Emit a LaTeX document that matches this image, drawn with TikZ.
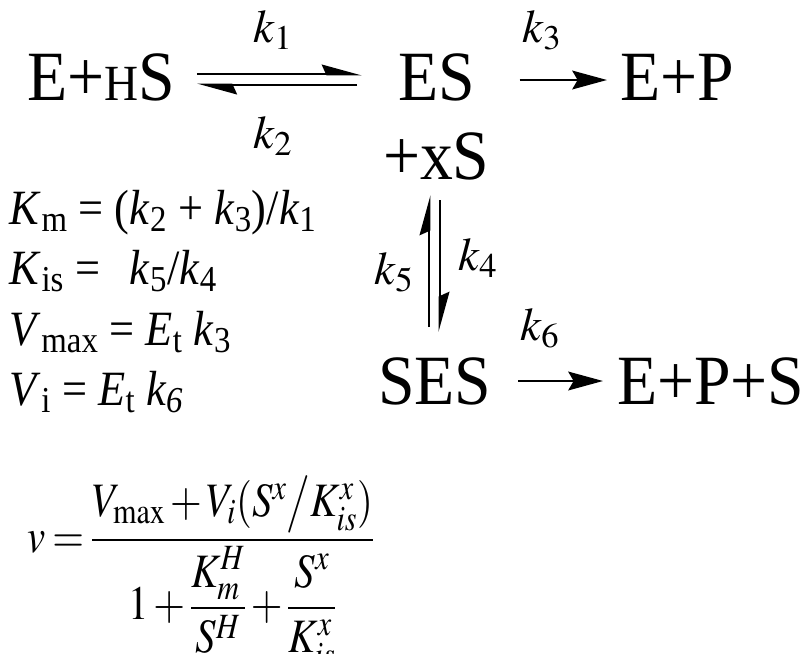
\documentclass[tikz,border=0pt]{standalone}
\usepackage{amsmath}
\usepackage{mathptmx}
\usepackage{fontspec}
\setmainfont{Liberation Serif}
\newfontfamily\tms[FakeStretch=0.93]{Liberation Serif}
\newfontfamily\tmsn[FakeStretch=0.9]{Liberation Serif}
\usetikzlibrary{arrows.meta}
\begin{document}
\begin{tikzpicture}[x=0.75pt,y=-0.75pt,
  big/.style={font=\tms\fontsize{53}{60}\selectfont, inner sep=0pt, outer sep=0pt},
  lab/.style={font=\fontsize{35}{40}\selectfont, inner sep=0pt, outer sep=0pt},
  eqn/.style={font=\tmsn\fontsize{37}{42}\selectfont, inner sep=0pt, outer sep=0pt},
  harp/.style={line width=2.2pt, -{Stealth[harpoon,length=26pt,width=14pt,inset=3pt]}},
  rxn/.style={line width=2.2pt, -{Stealth[length=26pt,width=14pt,inset=4pt]}}]
\useasboundingbox (0,0) rectangle (808,654);
% species
\node[big,anchor=base west] (lhs) at (27,100) {E+{\fontsize{38}{44}\selectfont H}S};
\node[big,anchor=base west] (es) at (398,100) {ES};
\node[big,anchor=base west] (ep) at (620,100) {E+P};
\node[big,anchor=base west] (xs) at (383,179) {+xS};
\node[big,anchor=base west] (ses) at (378,404) {SES};
\node[big,anchor=base west] (eps) at (617,404) {E+P+S};
% rate constants
\node[lab,anchor=base] (k1) at (273,42) {$k_1$};
\node[lab,anchor=base] (k2) at (273,148) {$k_2$};
\node[lab,anchor=base] (k3) at (542,42) {$k_3$};
\node[lab,anchor=base] (k5) at (394,284) {$k_5$};
\node[lab,anchor=base] (k4) at (478,270) {$k_4$};
\node[lab,anchor=base] (k6) at (540,340) {$k_6$};
% connectors
\draw[harp] ([shift={(22,-26)}]lhs.base east) -- ([shift={(-36,-26)}]es.base west);
\draw[harp] ([shift={(-41,-15)}]es.base west) -- ([shift={(22,-15)}]lhs.base east);
\draw[rxn] ([shift={(45,-20)}]es.base east) -- ([shift={(-13,-20)}]ep.base west);
\draw[rxn] ([shift={(27,-23)}]ses.base east) -- ([shift={(-14,-23)}]eps.base west);
\draw[harp] ([shift={(51,-77)}]ses.base west) -- ([shift={(46,16)}]xs.base west);
\draw[harp] ([shift={(57,21)}]xs.base west) -- ([shift={(62,-72)}]ses.base west);
% equations
\node[eqn,anchor=base west] (km) at (10,224) {\textit{K}\textsubscript{m} = (\textit{k}\textsubscript{2} + \textit{k}\textsubscript{3})/\textit{k}\textsubscript{1}};
\node[eqn,anchor=base west] (kis) at (10,284) {\textit{K}\textsubscript{is} =\hspace{0.6em}\textit{k}\textsubscript{5}/\textit{k}\textsubscript{4}};
\node[eqn,anchor=base west] (vmax) at (10,345) {\textit{V}\textsubscript{max} = \textit{E}\textsubscript{t} \textit{k}\textsubscript{3}};
\node[eqn,anchor=base west] (vi) at (10,405) {\textit{V}\textsubscript{i} = \textit{E}\textsubscript{t} \textit{k\textsubscript{6}}};
\begin{scope}[xscale=0.85]
\node[anchor=base west, font=\fontsize{36}{42}\selectfont, inner sep=0pt, transform shape] (rate) at (32,552)
  {\medmuskip=2mu plus 1mu\thickmuskip=3mu plus 2mu$v = \dfrac{V_{\max} + V_i(S^x \big/ K_{is}^x)}{1 + \dfrac{K_m^H}{S^H} + \dfrac{S^x}{K_{is}^x}}$};
\end{scope}
\end{tikzpicture}
\end{document}
